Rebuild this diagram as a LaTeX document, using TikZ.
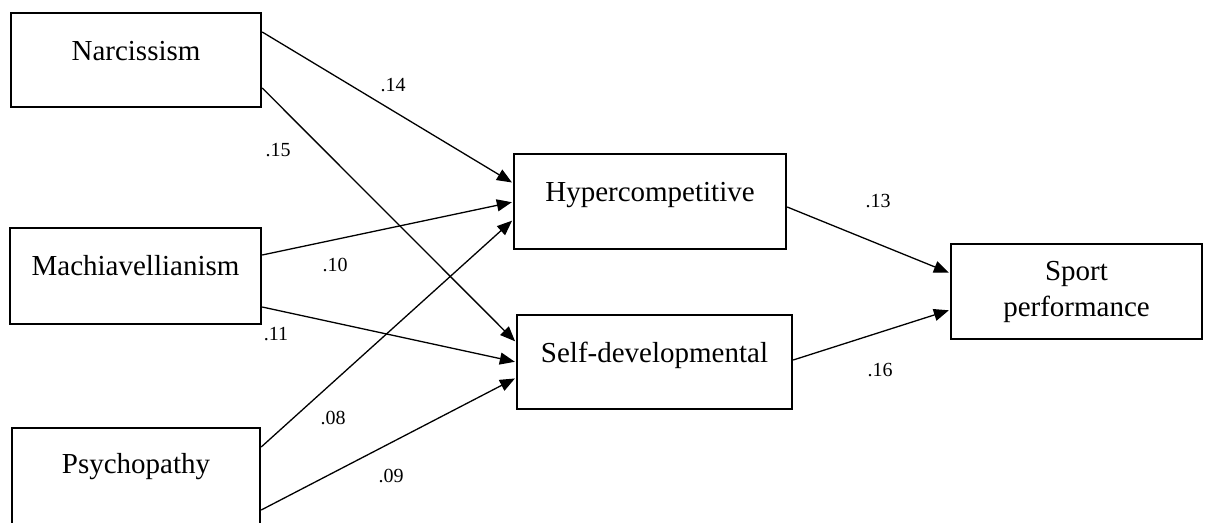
\documentclass[tikz,border=0pt]{standalone}
\usepackage{fontspec}
\setmainfont{Liberation Serif}
\usetikzlibrary{arrows.meta}
\begin{document}
\begin{tikzpicture}[x=1pt,y=-1pt,
  box/.style={draw,line width=2.4pt,inner sep=0pt,anchor=base,font=\fontsize{29}{35}\selectfont},
  arr/.style={line width=1.3pt,-{Triangle[length=15pt,width=12pt]},shorten >=1pt},
  coef/.style={inner sep=0pt,font=\fontsize{20}{24}\selectfont}]
\useasboundingbox (0,0) rectangle (1206,522);
\node[box,minimum width=250pt,text height=47pt,text depth=47pt] (narc) at (136,60) {Narcissism};
\node[box,minimum width=251pt,text height=47pt,text depth=49pt] (mach) at (135.5,275) {Machiavellianism};
\node[box,minimum width=248pt,text height=45pt,text depth=52pt] (psych) at (136,473) {Psychopathy};
\node[box,minimum width=272pt,text height=47pt,text depth=48pt] (hyper) at (650,201) {Hypercompetitive};
\node[box,minimum width=275pt,text height=47pt,text depth=47pt] (self) at (654.5,362) {Self-developmental};
\node[box,anchor=center,minimum width=251pt,minimum height=95pt,align=center,font=\fontsize{29}{36}\selectfont] (sport) at (1076.5,291.5) {Sport\\performance};
\draw[arr] ([yshift=28pt]narc.east) -- ([yshift=18.5pt]hyper.west);
\draw[arr] ([yshift=-28pt]narc.east) -- ([yshift=20pt]self.west);
\draw[arr] ([yshift=21pt]mach.east) -- ([yshift=-0.5pt]hyper.west);
\draw[arr] ([yshift=-31pt]mach.east) -- (self.west);
\draw[arr] ([yshift=29.5pt]psych.east) -- ([yshift=-18.5pt]hyper.west);
\draw[arr] ([yshift=-33.5pt]psych.east) -- ([yshift=-16pt]self.west);
\draw[arr] ([yshift=-5.5pt]hyper.east) -- ([yshift=18.5pt]sport.west);
\draw[arr] ([yshift=2pt]self.east) -- ([yshift=-18.5pt]sport.west);
\node[coef] (c14) at (393,85) {.14};
\node[coef] (c15) at (278,150) {.15};
\node[coef] (c10) at (335,265) {.10};
\node[coef] (c11) at (276,334) {.11};
\node[coef] (c08) at (333,418) {.08};
\node[coef] (c09) at (391,476) {.09};
\node[coef] (c13) at (878,201) {.13};
\node[coef] (c16) at (880,370) {.16};
\end{tikzpicture}
\end{document}
